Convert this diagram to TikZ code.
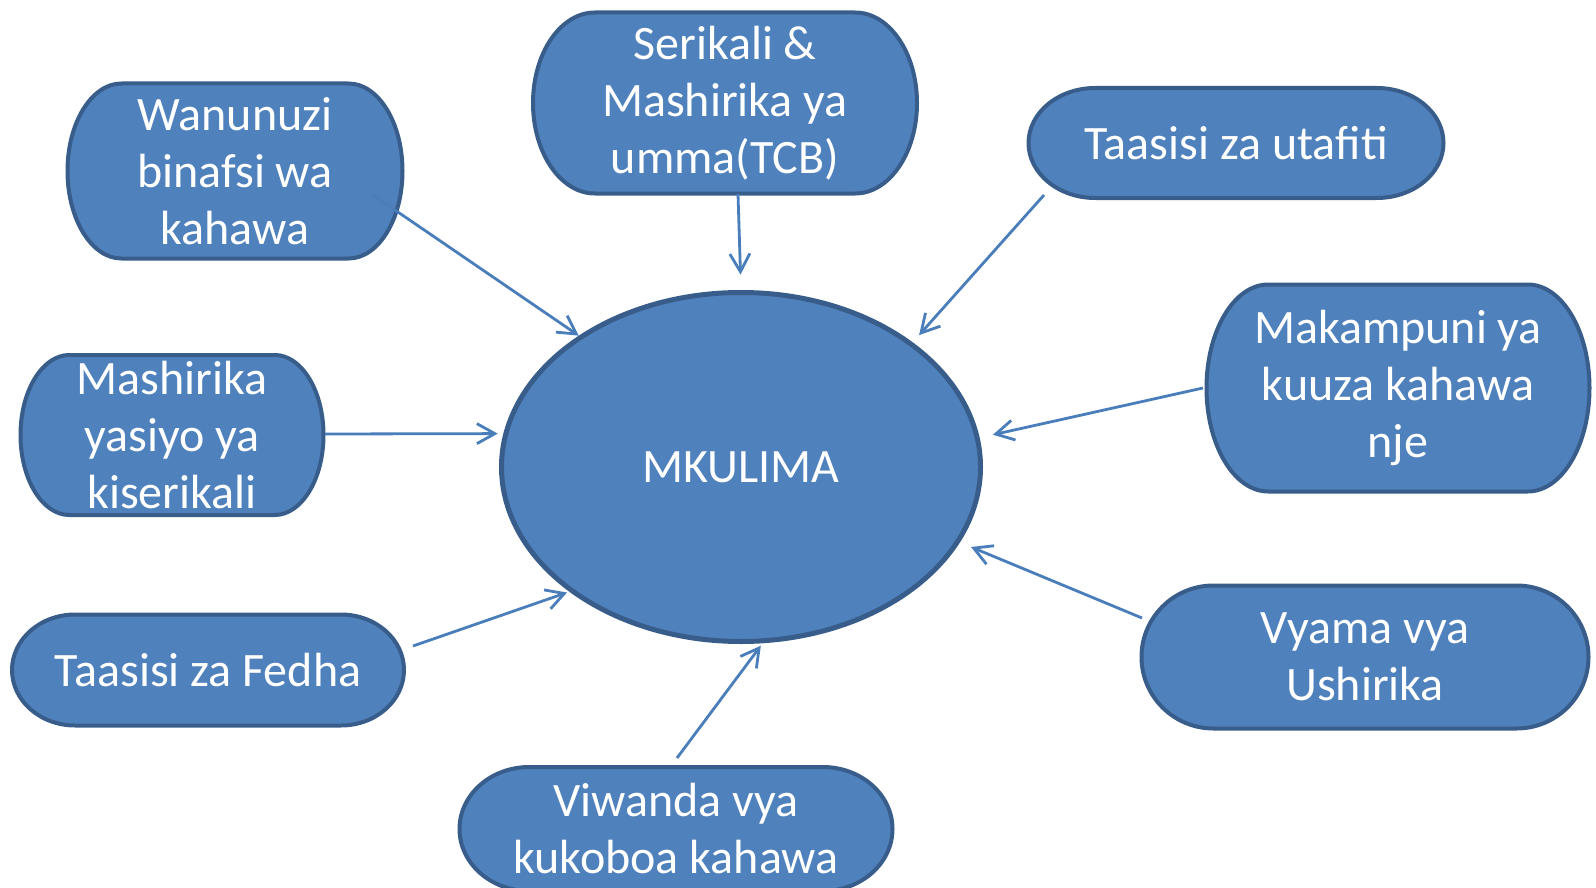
\documentclass[tikz,border=0pt]{standalone}
\usepackage{fontspec}
\setmainfont{Carlito}
\usetikzlibrary{arrows.meta,shapes.geometric,calc,backgrounds}
\definecolor{boxfill}{RGB}{79,129,189}
\definecolor{boxline}{RGB}{56,93,138}
\definecolor{conncol}{RGB}{74,126,187}
\tikzset{
  boxtext/.style={inner sep=0pt, align=center, text=white,
    font={\fontsize{24pt}{28.5pt}\selectfont}},
  boxshape/.style={draw=boxline, fill=boxfill, line width=2pt},
  conn/.style={draw=conncol, line width=1.4pt, -{Straight Barb[length=9pt,width=10pt]}},
}
\newcommand\termbox[6]{%
  \pgfmathsetmacro\tbw{(#4-4)*0.5}%
  \pgfmathsetmacro\tbh{(#5-4)*0.5}%
  \pgfmathsetmacro\tbrx{0.161*\tbw}%
  \pgfmathsetmacro\tbry{\tbh/2}%
  \pgfmathsetmacro\tbsx{\tbw/2-\tbrx}%
  \node[boxtext] (#1) at (#2,#3) {#6};
  \begin{pgfonlayer}{background}
  \draw[boxshape] ([xshift=-\tbsx pt, yshift=\tbry pt]#1.center)
     -- ([xshift=\tbsx pt, yshift=\tbry pt]#1.center)
     arc[start angle=90, end angle=-90, x radius=\tbrx pt, y radius=\tbry pt]
     -- ([xshift=-\tbsx pt, yshift=-\tbry pt]#1.center)
     arc[start angle=270, end angle=90, x radius=\tbrx pt, y radius=\tbry pt]
     -- cycle;
  \end{pgfonlayer}
}
\begin{document}
\begin{tikzpicture}[x=0.5pt,y=-0.5pt]
\useasboundingbox (0,0) rectangle (1596,888);
\termbox{wan}{235}{171}{339}{179}{Wanunuzi\\binafsi wa\\kahawa}
\termbox{ser}{725}{103}{388}{185}{Serikali \&\\Mashirika ya\\umma(TCB)}
\termbox{uta}{1236}{143}{419}{114}{Taasisi za utafiti}
\termbox{mak}{1398}{388}{387}{211}{Makampuni ya\\kuuza kahawa\\nje}
\termbox{mas}{172}{435}{307}{164}{Mashirika\\yasiyo ya\\kiserikali}
\termbox{fed}{208}{670}{396}{115}{Taasisi za Fedha}
\termbox{vya}{1365}{657}{451}{147}{Vyama vya\\Ushirika}
\termbox{viw}{676}{829}{437}{128}{Viwanda vya\\kukoboa kahawa}
\node[ellipse, draw=boxline, fill=boxfill, line width=2.5pt,
  minimum width=239.5pt, minimum height=174.5pt, inner sep=0pt,
  text=white, font={\fontsize{24pt}{28.5pt}\selectfont}] (mk) at (741,467) {MKULIMA};
\draw[conn] ($(wan.center)+(138,24)$) -- (mk.141.3);
\draw[conn, shorten >=7.7pt] ($(ser.center)+(13,91)$) -- (mk.90);
\draw[conn, shorten >=4.8pt] ($(uta.center)+(-192,52)$) -- (mk.36.4);
\draw[conn, shorten >=6.8pt] ($(mak.center)+(-195,0)$) -- (mk.7.55);
\draw[conn, shorten >=6pt] ($(vya.center)+(-223,-39)$) -- (mk.-19.7);
\draw[conn, shorten >=1.5pt] ($(viw.center)+(1,-71)$) -- (mk.-83.9);
\draw[conn, shorten >=1.2pt] ($(fed.center)+(205,-24)$) -- (mk.216.2);
\draw[conn, shorten >=2.8pt] ($(mas.center)+(153,-1)$) -- (mk.172.4);
\end{tikzpicture}
\end{document}
